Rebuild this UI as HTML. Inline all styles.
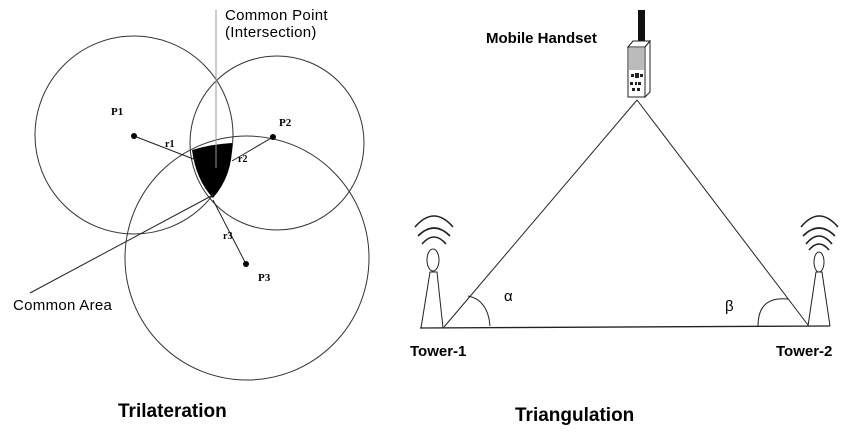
<!DOCTYPE html>
<html><head><style>
html,body{margin:0;padding:0;background:#fff;}
svg{display:block;}
text{font-family:"Liberation Sans",sans-serif;}
</style></head><body>
<svg width="850" height="438" viewBox="0 0 850 438" xmlns="http://www.w3.org/2000/svg">
<g fill="none" stroke="#333" stroke-width="1">
<circle cx="134" cy="135" r="99"/>
<circle cx="277" cy="143" r="87"/>
<circle cx="247" cy="258" r="122"/>
</g>
<path d="M192,150 Q212,144 232,143 Q233,175 213,198 Q196,180 192,150 Z" fill="#000"/>
<g stroke="#222" stroke-width="1" fill="none">
<line x1="216" y1="10" x2="216" y2="168" stroke="#999"/>
<line x1="134" y1="136" x2="196" y2="160"/>
<line x1="273" y1="137" x2="232" y2="161"/>
<line x1="213" y1="200" x2="246" y2="264"/>
<line x1="30" y1="293" x2="213" y2="195"/>
</g>
<circle cx="134" cy="136" r="3" fill="#000"/>
<circle cx="273" cy="137" r="3" fill="#000"/>
<circle cx="246" cy="264" r="3" fill="#000"/>
<g font-weight="bold" font-size="11">
<text x="111" y="115" style="font-family:'Liberation Serif',serif">P1</text>
<text x="279" y="126" style="font-family:'Liberation Serif',serif">P2</text>
<text x="258" y="281" style="font-family:'Liberation Serif',serif">P3</text>
<text x="165" y="147" style="font-family:'Liberation Serif',serif" font-size="10">r1</text>
<text x="238" y="162" style="font-family:'Liberation Serif',serif" font-size="10">r2</text>
<text x="223" y="239" style="font-family:'Liberation Serif',serif" font-size="10">r3</text>
</g>
<text x="225" y="20" font-size="15" letter-spacing="0.3">Common Point</text>
<text x="225" y="37" font-size="15" letter-spacing="0.3">(Intersection)</text>
<text x="13" y="310" font-size="15" letter-spacing="0.3">Common Area</text>
<text x="118" y="417" font-size="19" font-weight="bold">Trilateration</text>

<text x="486" y="43" font-size="15" font-weight="bold">Mobile Handset</text>
<rect x="638" y="10" width="7" height="32" fill="#111"/>
<polygon points="628,47 633,41 650,41 645,47" fill="#fff" stroke="#222"/>
<polygon points="645,47 650,41 650,92 645,97" fill="#fff" stroke="#222"/>
<rect x="628" y="47" width="17" height="50" fill="#fff" stroke="#222"/>
<rect x="629" y="48" width="15" height="22" fill="#bbb"/>
<g fill="#222">
<rect x="631" y="74" width="3" height="3"/><rect x="635" y="73" width="4" height="5"/><rect x="640" y="74" width="3" height="3"/>
<rect x="630" y="82" width="3" height="3"/><rect x="635" y="82" width="2" height="3"/><rect x="638" y="82" width="3" height="3"/>
<rect x="632" y="88" width="3" height="3"/><rect x="637" y="88" width="3" height="3"/>
</g>
<g stroke="#222" fill="none" stroke-width="1">
<line x1="637" y1="100" x2="444" y2="327"/>
<line x1="637" y1="100" x2="808" y2="325"/>
<line x1="420" y1="328" x2="830" y2="326" stroke-width="1.3"/>
<path d="M468,296 Q488,300 490,326"/>
<path d="M758,326 Q758,296 788,299"/>
<polyline points="421,328 430,272 437,272 443,328"/>
<g stroke-width="1.6">
<path d="M415,227 Q434,205 453,227"/>
<path d="M418,236 Q434,220 450,236"/>
<path d="M422,244 Q434,230 446,244"/>
</g>
<ellipse cx="433" cy="260" rx="6" ry="11"/>
<polyline points="808,326 816,272 822,272 830,326"/>
<g stroke-width="1.6">
<path d="M801,227 Q819,205 838,227"/>
<path d="M803,236 Q819,220 835,236"/>
<path d="M806,244 Q819,228 832,244"/>
<path d="M809,250 Q819,238 829,250"/>
</g>
<ellipse cx="819" cy="262" rx="5" ry="10"/>
</g>
<text x="504" y="301" font-size="15" font-family="Liberation Serif">α</text>
<text x="725" y="311" font-size="15" font-family="Liberation Serif">β</text>
<text x="410" y="356" font-size="15" font-weight="bold">Tower-1</text>
<text x="776" y="356" font-size="15" font-weight="bold">Tower-2</text>
<text x="515" y="421" font-size="19" font-weight="bold">Triangulation</text>
</svg>
</body></html>
